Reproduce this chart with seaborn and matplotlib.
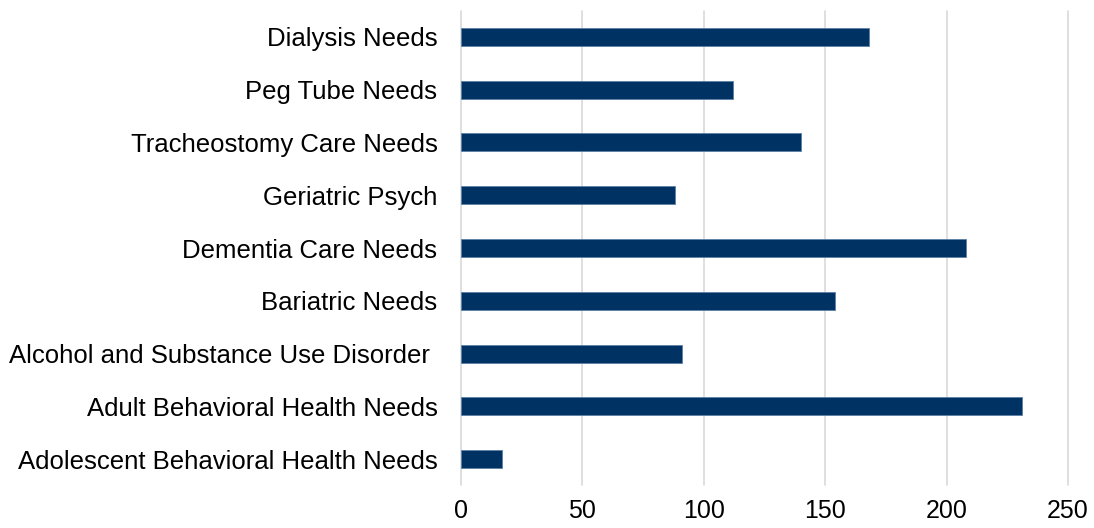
import matplotlib
matplotlib.use("Agg")
import matplotlib.pyplot as plt
import seaborn as sns
import pandas as pd

categories = [
    "Dialysis Needs",
    "Peg Tube Needs",
    "Tracheostomy Care Needs",
    "Geriatric Psych",
    "Dementia Care Needs",
    "Bariatric Needs",
    "Alcohol and Substance Use Disorder ",
    "Adult Behavioral Health Needs",
    "Adolescent Behavioral Health Needs",
]
counts = [168, 112, 140, 88, 208, 154, 91, 231, 17]
x_ticks = [0, 50, 100, 150, 200, 250]

df = pd.DataFrame({"category": categories, "count": counts})

sns.set_theme(style="white")
plt.rcParams["font.family"] = ["Liberation Sans", "DejaVu Sans"]

fig = plt.figure(figsize=(10.94, 5.28), dpi=100)
ax = fig.add_axes([0.4214, 0.0805, 0.5548, 0.8996])

sns.barplot(data=df, y="category", x="count", order=categories,
            color="#003263", width=0.34, edgecolor="#5a7fa6",
            linewidth=0.6, saturation=1, ax=ax)

ax.set_xlim(0, 250)
ax.set_xticks(x_ticks)
ax.set_xticklabels([str(t) for t in x_ticks])
ax.grid(axis="x", color="#d9d9d9", linewidth=1.2)
for line in ax.get_xgridlines():
    line.set_clip_on(False)
ax.set_axisbelow(True)
for s in ax.spines.values():
    s.set_visible(False)
ax.set_xlabel("")
ax.set_ylabel("")
ax.tick_params(axis="y", length=0, pad=17, labelsize=18.5, labelcolor="black")
ax.tick_params(axis="x", length=0, pad=10, labelsize=18, labelcolor="black")

fig.savefig("out.png", dpi=100)
